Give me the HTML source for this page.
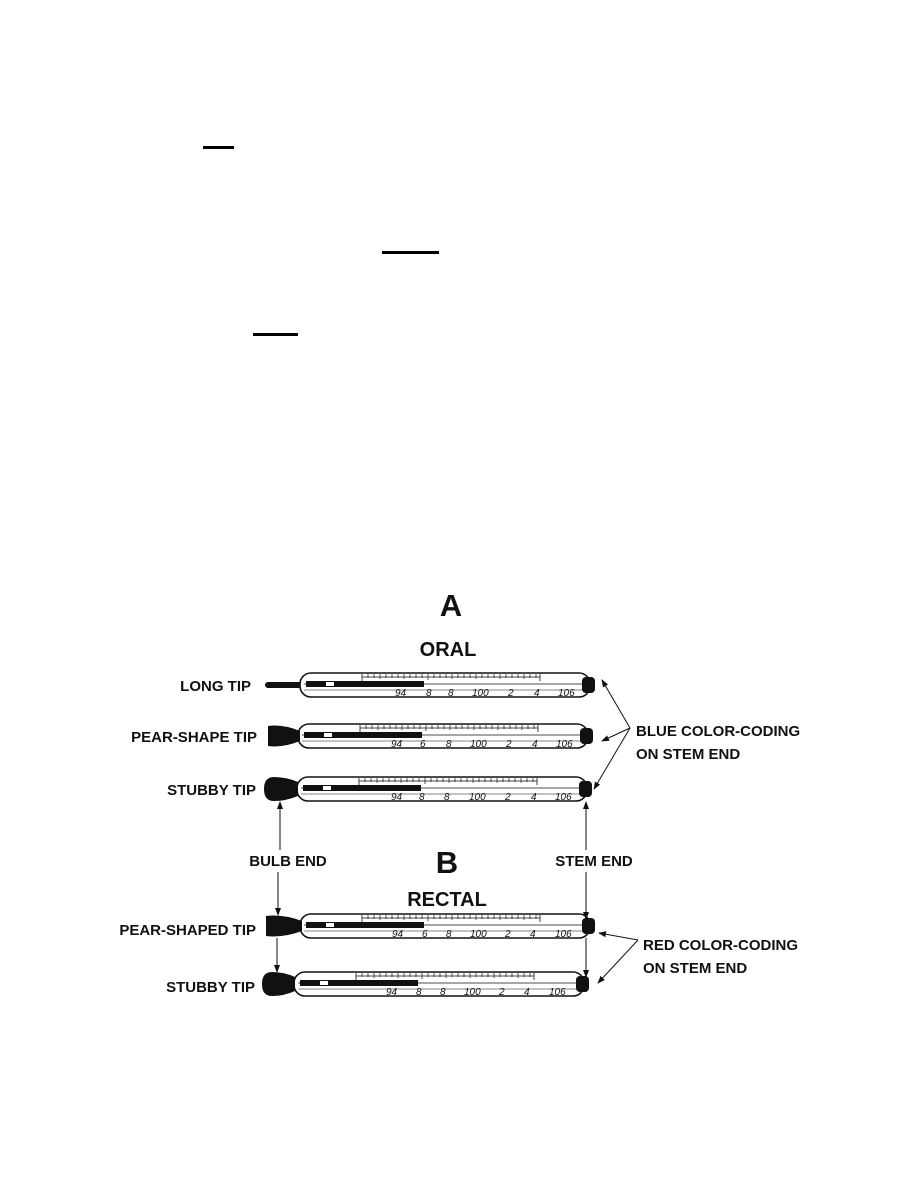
<!DOCTYPE html>
<html><head><meta charset="utf-8"><style>
html,body{margin:0;padding:0;background:#fff;}
svg{display:block}
text{font-family:"Liberation Sans",sans-serif;font-weight:bold;fill:#111}
.n{font-family:"Liberation Sans",sans-serif;font-style:italic;font-weight:normal;font-size:10px;fill:#111}
</style></head><body>
<svg width="918" height="1188" viewBox="0 0 918 1188" xmlns="http://www.w3.org/2000/svg">
<defs>
<marker id="ah" markerWidth="8" markerHeight="8" refX="7" refY="4" orient="auto" markerUnits="userSpaceOnUse">
<path d="M0,1 L8,4 L0,7 Z" fill="#111"/></marker>
<g id="body">
<rect x="0" y="-12" width="290" height="24" rx="11" fill="#fff" stroke="#111" stroke-width="1.6"/>
<line x1="4" y1="-1" x2="286" y2="-1" stroke="#111" stroke-width="0.8"/>
<line x1="4" y1="5" x2="286" y2="5" stroke="#111" stroke-width="0.6"/>
<rect x="6" y="-4" width="118" height="6" fill="#111"/>
<rect x="26" y="-3" width="8" height="4" fill="#fff"/>
<path d="M62,-11 L62,-4 M62,-8 L240,-8 M240,-11 L240,-4" stroke="#111" stroke-width="0.8" fill="none"/>
<path d="M68,-11v4M74,-11v4M80,-11v5M86,-11v4M92,-11v4M98,-11v4M104,-11v5M110,-11v4M116,-11v4M122,-11v4M128,-11v6M134,-11v4M140,-11v4M146,-11v4M152,-11v5M158,-11v4M164,-11v4M170,-11v4M176,-11v5M182,-11v4M188,-11v4M194,-11v4M200,-11v5M206,-11v4M212,-11v4M218,-11v4M224,-11v5M230,-11v4M236,-11v4" stroke="#111" stroke-width="0.7"/>
<rect x="282" y="-8" width="13" height="16" rx="4" fill="#111"/>
</g>
</defs>

<rect x="203" y="146" width="31" height="3" fill="#000"/>
<rect x="382" y="251" width="57" height="3" fill="#000"/>
<rect x="253" y="333" width="45" height="3" fill="#000"/>

<text x="451" y="616" font-size="31" text-anchor="middle">A</text>
<text x="448" y="656" font-size="20" text-anchor="middle">ORAL</text>

<rect x="265" y="682" width="45" height="6" rx="3" fill="#111"/>
<g transform="translate(300,685)"><use href="#body"/>
<text class="n" x="95" y="11">94</text><text class="n" x="126" y="11">8</text><text class="n" x="148" y="11">8</text><text class="n" x="172" y="11">100</text><text class="n" x="208" y="11">2</text><text class="n" x="234" y="11">4</text><text class="n" x="258" y="11">106</text></g>

<g transform="translate(298,736)"><use href="#body"/>
<text class="n" x="93" y="11">94</text><text class="n" x="122" y="11">6</text><text class="n" x="148" y="11">8</text><text class="n" x="172" y="11">100</text><text class="n" x="208" y="11">2</text><text class="n" x="234" y="11">4</text><text class="n" x="258" y="11">106</text></g>
<path d="M268,726 Q283,724 300,731 L300,741 Q283,748 268,746 Z" fill="#111"/>

<g transform="translate(297,789)"><use href="#body"/>
<text class="n" x="94" y="11">94</text><text class="n" x="122" y="11">8</text><text class="n" x="147" y="11">8</text><text class="n" x="172" y="11">100</text><text class="n" x="208" y="11">2</text><text class="n" x="234" y="11">4</text><text class="n" x="258" y="11">106</text></g>
<path d="M274,777 Q286,777 298,782 L298,796 Q286,801 274,801 Q264,801 264,789 Q264,777 274,777 Z" fill="#111"/>

<g transform="translate(300,926)"><use href="#body"/>
<text class="n" x="92" y="11">94</text><text class="n" x="122" y="11">6</text><text class="n" x="146" y="11">8</text><text class="n" x="170" y="11">100</text><text class="n" x="205" y="11">2</text><text class="n" x="230" y="11">4</text><text class="n" x="255" y="11">106</text></g>
<path d="M266,916 Q283,914 302,921 L302,931 Q283,938 266,936 Z" fill="#111"/>

<g transform="translate(294,984)"><use href="#body"/>
<text class="n" x="92" y="11">94</text><text class="n" x="122" y="11">8</text><text class="n" x="146" y="11">8</text><text class="n" x="170" y="11">100</text><text class="n" x="205" y="11">2</text><text class="n" x="230" y="11">4</text><text class="n" x="255" y="11">106</text></g>
<path d="M272,972 Q284,972 295,977 L295,991 Q284,996 272,996 Q262,996 262,984 Q262,972 272,972 Z" fill="#111"/>

<g font-size="15">
<text x="251" y="691" text-anchor="end">LONG TIP</text>
<text x="257" y="742" text-anchor="end">PEAR-SHAPE TIP</text>
<text x="256" y="795" text-anchor="end">STUBBY TIP</text>
<text x="288" y="866" text-anchor="middle">BULB END</text>
<text x="594" y="866" text-anchor="middle">STEM END</text>
<text x="636" y="736">BLUE COLOR-CODING</text>
<text x="636" y="759">ON STEM END</text>
<text x="256" y="935" text-anchor="end">PEAR-SHAPED TIP</text>
<text x="255" y="992" text-anchor="end">STUBBY TIP</text>
<text x="643" y="950">RED COLOR-CODING</text>
<text x="643" y="973">ON STEM END</text>
</g>
<text x="447" y="873" font-size="31" text-anchor="middle">B</text>
<text x="447" y="906" font-size="20" text-anchor="middle">RECTAL</text>

<g stroke="#111" stroke-width="1" fill="none">
<line x1="630" y1="728" x2="602" y2="680" marker-end="url(#ah)"/>
<line x1="630" y1="728" x2="602" y2="741" marker-end="url(#ah)"/>
<line x1="630" y1="728" x2="594" y2="789" marker-end="url(#ah)"/>
<line x1="280" y1="850" x2="280" y2="802" marker-end="url(#ah)"/>
<line x1="586" y1="850" x2="586" y2="802" marker-end="url(#ah)"/>
<line x1="278" y1="872" x2="278" y2="915" marker-end="url(#ah)"/>
<line x1="277" y1="938" x2="277" y2="972" marker-end="url(#ah)"/>
<line x1="586" y1="872" x2="586" y2="919" marker-end="url(#ah)"/>
<line x1="586" y1="938" x2="586" y2="977" marker-end="url(#ah)"/>
<line x1="638" y1="940" x2="599" y2="933" marker-end="url(#ah)"/>
<line x1="638" y1="940" x2="598" y2="983" marker-end="url(#ah)"/>
</g>
</svg>
</body></html>
